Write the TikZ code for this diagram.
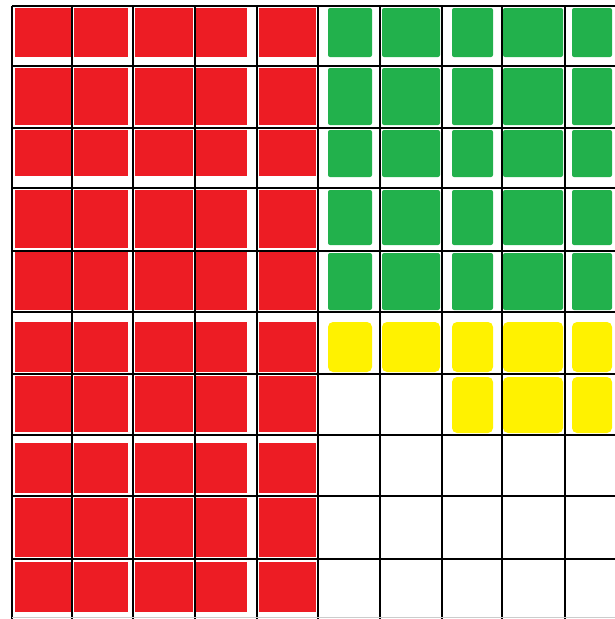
\documentclass[tikz,border=0pt]{standalone}
\usepackage{tikz}
\definecolor{paintred}{HTML}{ED1C24}
\definecolor{paintgreen}{HTML}{22B14C}
\definecolor{paintyellow}{HTML}{FFF200}
\begin{document}
\begin{tikzpicture}[x=1pt, y=-1pt, line width=1.6pt]
        \useasboundingbox (0,0) rectangle (615,619);
        % red blocks, left half
        \foreach \xa/\xb in {15/71, 74/128, 135/193, 196/247, 259/316}
            \foreach \ya/\yb in {8/57, 68/125, 130/176, 190/248, 252/310, 322/372, 376/432, 443/493, 498/557, 562/612}
                \fill [paintred] (\xa,\ya) rectangle (\xb,\yb);
        % green blocks
        \foreach \xa/\xb in {328/372, 382/440, 452/493, 503/563, 572/612}
            \foreach \ya/\yb in {8/57, 68/125, 130/177, 190/245, 253/310}
                \fill [paintgreen, rounded corners=2pt] (\xa,\ya) rectangle (\xb,\yb);
        % yellow blocks
        \foreach \xa/\xb in {328/372, 382/440, 452/493, 503/563, 572/612}
            \fill [paintyellow, rounded corners=5pt] (\xa,322) rectangle (\xb,372);
        \foreach \xa/\xb in {452/493, 503/563, 572/612}
            \fill [paintyellow, rounded corners=5pt] (\xa,377) rectangle (\xb,433);
        % grid
        \foreach \x in {12, 72, 133, 195, 257, 318, 380, 442, 502, 565}
            \draw (\x,6) -- (\x,619);
        \foreach \y in {6, 66, 128, 188, 251, 312, 374, 435, 496, 559}
            \draw (12,\y) -- (615,\y);
        \draw [gray!40, line width=1pt] (12,617.5) -- (615,617.5);
\end{tikzpicture}
\end{document}
